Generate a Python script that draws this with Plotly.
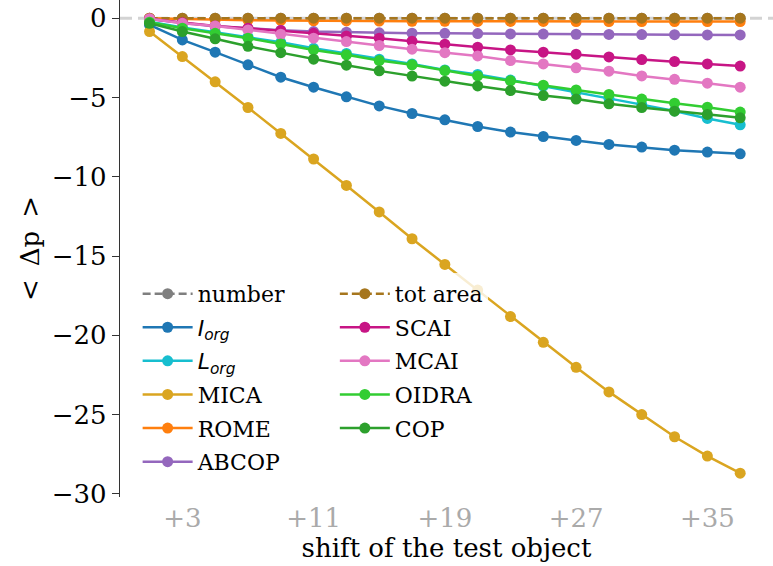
import plotly.graph_objects as go

# shift of the test object (x positions of the samples)
shift = list(range(1, 38, 2))
tick_vals = [3, 11, 19, 27, 35]
tick_text = ["+3", "+11", "+19", "+27", "+35"]

number = [0.0] * 19
tot_area = [0.0] * 19
i_org = [-0.42, -1.37, -2.14, -2.94, -3.72, -4.35, -4.96, -5.53, -6.01, -6.41,
         -6.83, -7.18, -7.46, -7.71, -7.96, -8.13, -8.32, -8.44, -8.55]
l_org = [-0.22, -0.58, -0.88, -1.18, -1.52, -1.90, -2.22, -2.58, -2.88, -3.26,
         -3.55, -3.90, -4.28, -4.65, -5.05, -5.45, -5.85, -6.32, -6.72]
mica = [-0.84, -2.42, -4.01, -5.63, -7.27, -8.88, -10.55, -12.22, -13.91, -15.53,
        -17.15, -18.82, -20.44, -22.02, -23.57, -25.00, -26.40, -27.62, -28.70]
rome = [0.0, -0.05, -0.09, -0.12, -0.14, -0.16, -0.17, -0.18, -0.19, -0.19,
        -0.20, -0.20, -0.20, -0.21, -0.21, -0.21, -0.21, -0.21, -0.21]
abcop = [-0.05, -0.30, -0.50, -0.65, -0.76, -0.84, -0.88, -0.92, -0.94, -0.95,
         -0.97, -0.99, -1.00, -1.01, -1.02, -1.03, -1.04, -1.05, -1.05]
scai = [-0.05, -0.28, -0.49, -0.63, -0.78, -0.95, -1.12, -1.26, -1.45, -1.64,
        -1.83, -2.00, -2.14, -2.27, -2.44, -2.61, -2.73, -2.88, -3.02]
mcai = [-0.03, -0.32, -0.49, -0.74, -1.01, -1.26, -1.47, -1.72, -1.95, -2.17,
        -2.38, -2.67, -2.88, -3.13, -3.34, -3.64, -3.85, -4.10, -4.35]
oidra = [-0.25, -0.63, -0.95, -1.26, -1.62, -2.00, -2.31, -2.67, -2.94, -3.30,
         -3.64, -3.95, -4.22, -4.52, -4.81, -5.10, -5.36, -5.61, -5.92]
cop = [-0.32, -0.84, -1.30, -1.77, -2.17, -2.58, -2.96, -3.32, -3.65, -3.97,
       -4.27, -4.56, -4.88, -5.10, -5.40, -5.63, -5.86, -6.07, -6.28]

SERIF = "DejaVu Serif"
SANS_IT = "<span style='font-family:DejaVu Sans'><i>{}</i><sub><i>{}</i></sub></span>"

# (label, values, colour, dashed, legend column)
series = [
    ("number", number, "#7f7f7f", True, "legend"),
    (SANS_IT.format("I", "org"), i_org, "#1f77b4", False, "legend"),
    (SANS_IT.format("L", "org"), l_org, "#17becf", False, "legend"),
    ("MICA", mica, "#daa520", False, "legend"),
    ("ROME", rome, "#ff7f0e", False, "legend"),
    ("ABCOP", abcop, "#9467bd", False, "legend"),
    ("tot area", tot_area, "#a6761d", True, "legend2"),
    ("SCAI", scai, "#c71585", False, "legend2"),
    ("MCAI", mcai, "#e377c2", False, "legend2"),
    ("OIDRA", oidra, "#32cd32", False, "legend2"),
    ("COP", cop, "#2ca02c", False, "legend2"),
]

fig = go.Figure()
for k, (name, vals, col, dashed, leg) in enumerate(series):
    fig.add_trace(go.Scatter(
        x=shift, y=vals, name=name, mode="lines+markers",
        line=dict(color=col, width=2.5, dash="8px,4px" if dashed else "solid"),
        marker=dict(color=col, size=11),
        legend=leg, legendgroup="g%d" % k,
    ))

# reference line at zero
fig.add_shape(type="line", xref="paper", yref="y", x0=0, x1=1, y0=0, y1=0,
              line=dict(color="#d3d3d3", width=3, dash="12px,6px"), layer="below")

legend_common = dict(
    font=dict(family=SERIF, size=22, color="black"),
    bgcolor="rgba(255,255,255,0.8)", borderwidth=0,
    tracegroupgap=2, itemwidth=50, xanchor="left", yanchor="top",
    orientation="v",
)

fig.update_layout(
    width=773, height=566,
    margin=dict(l=120, r=0, t=0, b=69),
    paper_bgcolor="white", plot_bgcolor="white",
    font=dict(family=SERIF, size=26, color="black"),
    showlegend=True,
    legend=dict(x=0.027, y=0.451, **legend_common),
    legend2=dict(x=0.329, y=0.451, **legend_common),
    xaxis=dict(
        range=[-0.8, 39.0], tickmode="array", tickvals=tick_vals, ticktext=tick_text,
        tickfont=dict(family=SERIF, size=26, color="#aaaaaa"),
        showgrid=False, zeroline=False, showline=False, ticks="",
        ticklabelstandoff=3,
        title=dict(text="shift of the test object", font=dict(family=SERIF, size=26),
                   standoff=2),
    ),
    yaxis=dict(
        range=[-30.2, 1.15], tickmode="array", tickvals=[0, -5, -10, -15, -20, -25, -30],
        tickfont=dict(family=SERIF, size=26, color="black"),
        showgrid=False, zeroline=False, showline=True, linecolor="#333333", linewidth=1.3,
        ticks="outside", ticklen=7, tickwidth=1.3, tickcolor="#333333",
        title=dict(text="&lt;\u2002Δp\u2002&gt;", font=dict(family=SERIF, size=26), standoff=4),
    ),
)

fig.write_html("out.html")
